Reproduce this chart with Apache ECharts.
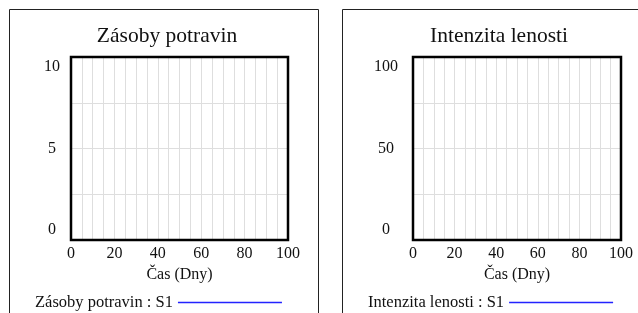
<!DOCTYPE html>
<html>
<head>
<meta charset="utf-8">
<script src="https://cdn.jsdelivr.net/npm/echarts@6/dist/echarts.min.js"></script>
<style>
	html, body { margin: 0; padding: 0; background: #fff; }
	#chart { width: 638px; height: 313px; }
</style>
</head>
<body>
<div id="chart"></div>
<script>
//Chart data
let panelTitles = ['Zásoby potravin', 'Intenzita lenosti'];
let legendNames = ['Zásoby potravin : S1', 'Intenzita lenosti : S1'];
let xTicks = [0, 20, 40, 60, 80, 100];
let yTicksLeft = [0, 5, 10];
let yTicksRight = [0, 50, 100];
//No run was plotted yet, so both series are empty
let zasobyValues = [];
let lenostValues = [];

let font = 'Liberation Serif';
let gridColor = '#dedede';

function xAxis(gridIndex) {
	return {
		type: 'value',
		gridIndex: gridIndex,
		min: xTicks[0],
		max: xTicks[xTicks.length - 1],
		interval: xTicks[1] - xTicks[0],
		name: 'Čas (Dny)',
		nameLocation: 'middle',
		nameGap: 22,
		nameTextStyle: { fontFamily: font, fontSize: 16, color: '#111' },
		axisLine: { show: false },
		axisTick: { show: false },
		axisLabel: { fontFamily: font, fontSize: 16, color: '#111', margin: 6 },
		splitLine: { show: true, lineStyle: { color: gridColor, width: 1 } },
		minorTick: { show: false, splitNumber: 4 },
		minorSplitLine: { show: true, lineStyle: { color: gridColor, width: 1 } }
	};
}

function yAxis(gridIndex, ticks, margin) {
	let top = ticks[ticks.length - 1];
	let bottom = ticks[0];
	return {
		type: 'value',
		gridIndex: gridIndex,
		min: bottom,
		max: top,
		interval: ticks[1] - ticks[0],
		axisLine: { show: false },
		axisTick: { show: false },
		axisLabel: {
			fontFamily: font,
			fontSize: 16,
			color: '#111',
			align: 'center',
			margin: margin,
			//Vensim style: end labels sit inside the plot range
			formatter: function (v) {
				if (v === top) return '{hi|' + v + '}';
				if (v === bottom) return '{lo|' + v + '}';
				return v + '';
			},
			rich: {
				hi: { fontFamily: font, fontSize: 16, color: '#111', padding: [20, 0, 0, 0] },
				lo: { fontFamily: font, fontSize: 16, color: '#111', padding: [0, 0, 20, 0] }
			}
		},
		splitLine: { show: true, lineStyle: { color: gridColor, width: 1 } },
		minorTick: { show: false, splitNumber: 2 },
		minorSplitLine: { show: true, lineStyle: { color: gridColor, width: 1 } }
	};
}

function legend(name, left) {
	return {
		data: [name],
		left: left,
		top: 289,
		align: 'right',
		icon: 'path://M0,0L100,0L100,1.5L0,1.5Z',
		itemWidth: 104,
		itemHeight: 2,
		itemGap: 0,
		selectedMode: false,
		textStyle: { fontFamily: font, fontSize: 16.5, color: '#111' }
	};
}

let chart = echarts.init(document.getElementById('chart'), null, { renderer: 'canvas' });

let option = {
	animation: false,
	backgroundColor: '#fff',
	title: [
		{
			text: panelTitles[0], left: 162, top: 20, textAlign: 'center',
			textStyle: { fontFamily: font, fontSize: 21.5, fontWeight: 'normal', color: '#111' }
		},
		{
			text: panelTitles[1], left: 494, top: 20, textAlign: 'center',
			textStyle: { fontFamily: font, fontSize: 21.5, fontWeight: 'normal', color: '#111' }
		}
	],
	legend: [legend(legendNames[0], 30), legend(legendNames[1], 363)],
	grid: [
		{ left: 71, top: 57, width: 217, height: 183, show: true, z: 5, borderColor: '#000', borderWidth: 2.5, backgroundColor: 'transparent' },
		{ left: 413, top: 57, width: 208, height: 183, show: true, z: 5, borderColor: '#000', borderWidth: 2.5, backgroundColor: 'transparent' }
	],
	xAxis: [xAxis(0), xAxis(1)],
	yAxis: [yAxis(0, yTicksLeft, 19), yAxis(1, yTicksRight, 27)],
	series: [
		{
			name: legendNames[0], type: 'line', xAxisIndex: 0, yAxisIndex: 0,
			data: zasobyValues, showSymbol: false,
			lineStyle: { color: '#2323ff', width: 1.5 }, itemStyle: { color: '#2323ff' }
		},
		{
			name: legendNames[1], type: 'line', xAxisIndex: 1, yAxisIndex: 1,
			data: lenostValues, showSymbol: false,
			lineStyle: { color: '#2323ff', width: 1.5 }, itemStyle: { color: '#2323ff' }
		}
	],
	//Panel frames around each view
	graphic: [
		{ type: 'rect', shape: { x: 9.5, y: 9.5, width: 309, height: 320 }, style: { fill: null, stroke: '#222', lineWidth: 1 }, z: -1 },
		{ type: 'rect', shape: { x: 342.5, y: 9.5, width: 320, height: 320 }, style: { fill: null, stroke: '#222', lineWidth: 1 }, z: -1 }
	]
};

chart.setOption(option);
</script>
</body>
</html>
